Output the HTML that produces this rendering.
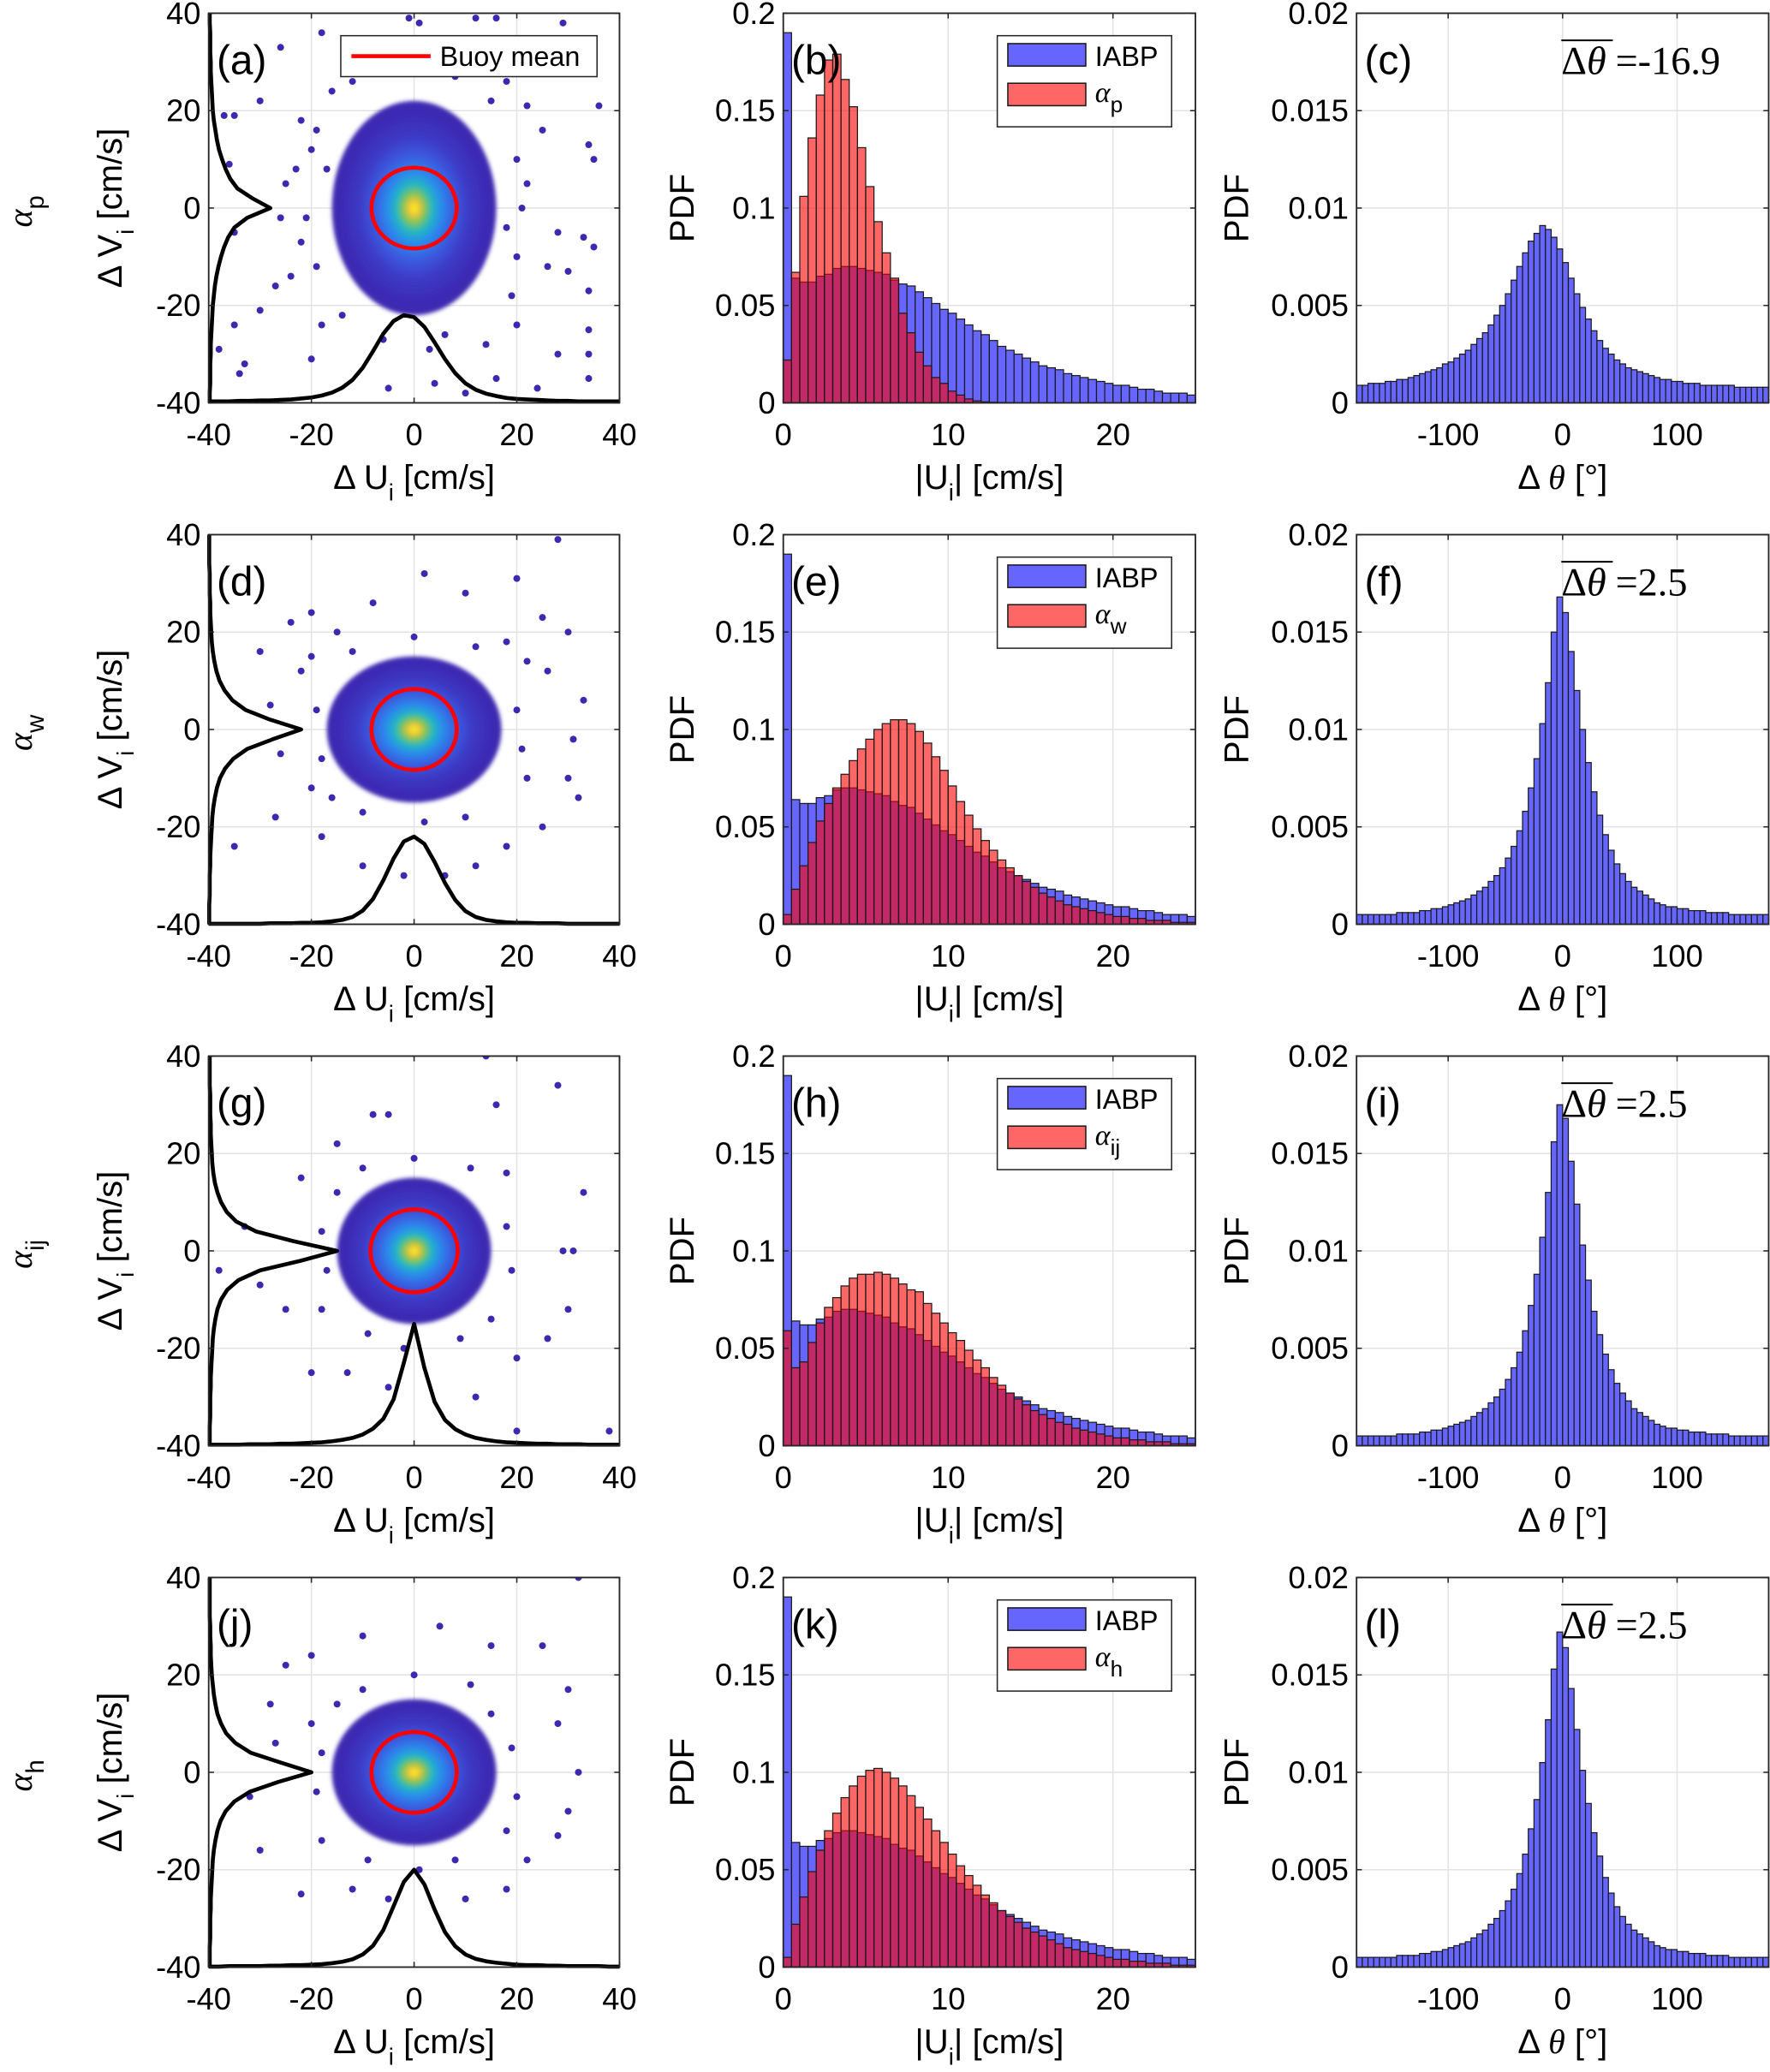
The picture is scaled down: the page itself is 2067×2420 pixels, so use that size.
<!DOCTYPE html>
<html><head><meta charset="utf-8"><style>
html,body{margin:0;padding:0;background:#fff}
svg{display:block}
text{font-family:"Liberation Sans",Arial,sans-serif;fill:#000}
.serif{font-family:"Liberation Serif","DejaVu Serif",serif}
</style></head><body>
<svg id="fig" width="2067" height="2420" viewBox="0 0 1340 1568.8" xmlns="http://www.w3.org/2000/svg">
<defs>
<radialGradient id="cloudGrad" cx="50%" cy="50%" r="50%">
<stop offset="0" stop-color="#f9f50e"/>
<stop offset="0.06" stop-color="#f0c83a"/>
<stop offset="0.13" stop-color="#8cc452"/>
<stop offset="0.22" stop-color="#25b8c0"/>
<stop offset="0.33" stop-color="#2a8cec"/>
<stop offset="0.48" stop-color="#3a5de0"/>
<stop offset="0.65" stop-color="#3d3cc8"/>
<stop offset="0.85" stop-color="#3d2cb6"/>
<stop offset="1" stop-color="#3d28b0"/>
</radialGradient>
<filter id="soft" x="-20%" y="-20%" width="140%" height="140%"><feGaussianBlur stdDeviation="1.6"/></filter>
</defs>
</svg>
<script>
// ---------- DATA ----------
const rowLabels = ["p","w","ij","h"];
const panelLetters = [["(a)","(b)","(c)"],["(d)","(e)","(f)"],["(g)","(h)","(i)"],["(j)","(k)","(l)"]];
const meanTheta = ["-16.9","2.5","2.5","2.5"];
const scatterTicks = [-40,-20,0,20,40];
const speedTicks = [0,10,20];
const speedYTicks = [0,0.05,0.1,0.15,0.2];
const speedYLabels = ["0","0.05","0.1","0.15","0.2"];
const angleTicks = [-100,0,100];
const angleYTicks = [0,0.005,0.01,0.015,0.02];
const angleYLabels = ["0","0.005","0.01","0.015","0.02"];
const buoyRadius = [8.3,8.3,8.5,8.3];
const cloudRx = [16,17,15,16];
const cloudRy = [22,15,15,15];
// marginal curves sampled at -40..40 step 2 (height above -40, cm/s units)
const margU_a = [0.3,0.3,0.3,0.4,0.4,0.5,0.5,0.6,0.7,0.9,1.1,1.5,2.1,3.1,4.7,7.2,10.6,14.2,16.8,18.0,17.6,15.6,12.4,9.0,6.1,4.0,2.7,1.9,1.4,1.0,0.8,0.7,0.6,0.5,0.4,0.4,0.3,0.3,0.3,0.3,0.3];
const margV_a = [0.2,0.2,0.3,0.3,0.3,0.4,0.4,0.5,0.6,0.7,0.8,1.0,1.2,1.5,1.9,2.4,3.0,3.8,5.0,7.5,12.0,8.5,5.6,4.2,3.3,2.6,2.0,1.6,1.3,1.0,0.8,0.7,0.6,0.5,0.4,0.4,0.3,0.3,0.3,0.2,0.2];
const margU_d = [0.1,0.1,0.1,0.1,0.1,0.1,0.2,0.2,0.2,0.3,0.3,0.4,0.6,0.9,1.5,2.8,5.2,9.0,13.5,17.0,18.0,16.5,12.8,8.5,5.0,2.7,1.5,0.9,0.6,0.4,0.3,0.3,0.2,0.2,0.2,0.1,0.1,0.1,0.1,0.1,0.1];
const margV_d = [0.1,0.1,0.1,0.2,0.2,0.2,0.3,0.3,0.4,0.5,0.6,0.7,0.9,1.2,1.6,2.2,3.2,4.8,7.5,12.5,18.0,12.0,7.2,4.6,3.1,2.1,1.5,1.1,0.8,0.6,0.5,0.4,0.3,0.3,0.2,0.2,0.2,0.1,0.1,0.1,0.1];
const margU_g = [0.2,0.2,0.2,0.2,0.3,0.3,0.3,0.4,0.4,0.5,0.6,0.7,0.9,1.2,1.6,2.3,3.5,5.5,9.5,17.0,25.0,16.0,9.0,5.3,3.4,2.3,1.6,1.2,0.9,0.7,0.6,0.5,0.4,0.4,0.3,0.3,0.3,0.2,0.2,0.2,0.2];
const margV_g = [0.2,0.2,0.2,0.3,0.3,0.3,0.4,0.4,0.5,0.6,0.7,0.8,1.0,1.3,1.7,2.4,3.6,5.8,10.0,18.0,25.0,16.5,9.2,5.4,3.5,2.4,1.7,1.2,0.9,0.7,0.6,0.5,0.4,0.4,0.3,0.3,0.3,0.2,0.2,0.2,0.2];
const margU_j = [0.1,0.1,0.2,0.2,0.2,0.2,0.3,0.3,0.4,0.4,0.5,0.6,0.8,1.1,1.6,2.6,4.4,7.6,12.5,17.5,20.0,17.0,11.8,7.2,4.3,2.6,1.7,1.2,0.9,0.7,0.5,0.4,0.4,0.3,0.3,0.2,0.2,0.2,0.2,0.1,0.1];
const margV_j = [0.2,0.2,0.2,0.3,0.3,0.3,0.4,0.4,0.5,0.6,0.7,0.8,1.0,1.3,1.7,2.3,3.3,5.0,8.0,13.5,20.0,14.0,8.2,5.2,3.4,2.4,1.7,1.3,1.0,0.8,0.6,0.5,0.4,0.4,0.3,0.3,0.2,0.2,0.2,0.2,0.2];
// scatter outliers [dU, dV]
const pts_a = [[-30,22],[-37,19],[-35,19],[-26,33],[-18,36],[-1,39],[1,38],[12,39],[16,39],[29,38],[36,21],[34,13],[35,10],[28,-5],[33,-6],[35,-8],[30,-13],[34,-17],[34,-25],[34,-30],[34,-35],[28,-30],[24,-37],[-30,-21],[-35,-24],[-38,-29],[-33,-32],[-34,-34],[-20,-31],[-36,9],[-35,-5],[-27,-16],[-24,-14],[-22,-7],[-25,5],[-26,-2],[-20,12],[22,21],[25,16],[20,-24],[16,-35],[10,-38],[-5,-37],[4,-36],[-16,24],[18,26],[-22,18],[26,-12],[-18,-24],[14,-28],[-19,16],[-21,-2],[-19,-12],[20,10],[21,0],[20,-10],[19,-18],[-12,26],[8,27],[-6,-27],[6,-26],[-14,-22],[15,22],[-17,8],[18,-4],[-3,28],[3,-29],[22,5],[-23,8]];
const pts_d = [[-24,22],[-20,24],[-30,16],[-35,-24],[-27,-18],[-26,-5],[-28,5],[-22,12],[28,39],[20,31],[25,23],[30,20],[33,6],[31,-2],[30,-10],[32,-14],[25,-20],[18,-24],[12,-28],[6,-30],[-2,-30],[-10,-28],[-18,-22],[2,32],[-8,26],[10,28],[-15,20],[22,-10],[26,12],[-20,-12],[18,18],[-19,4],[-18,-6],[20,4],[21,-4],[-12,16],[12,17],[-10,-17],[10,-18],[0,19],[2,-19],[-20,15],[22,14],[-16,-14]];
const pts_g = [[-33,5],[-30,-7],[-20,-25],[-25,-12],[-22,15],[-15,22],[-5,28],[14,40],[28,34],[16,30],[33,12],[29,0],[31,0],[30,-12],[20,-22],[20,-37],[38,-37],[12,-30],[-5,-28],[-13,-25],[26,-18],[18,16],[-18,-12],[-38,-4],[-8,28],[-18,4],[-17,-4],[18,5],[19,-4],[-10,17],[11,17],[-9,-17],[9,-18],[0,19],[-2,-20],[15,-14],[-15,12]];
const pts_j = [[-25,22],[-20,24],[-28,14],[-30,-16],[-22,-25],[-32,-5],[-27,6],[-20,10],[32,40],[25,26],[30,17],[28,10],[32,0],[30,-8],[28,-13],[22,-18],[18,-24],[10,-26],[-5,-26],[-12,-24],[5,30],[-10,28],[15,26],[-18,-14],[20,-5],[-18,4],[-19,-4],[19,5],[18,-12],[-10,17],[11,18],[-9,-18],[8,-18],[0,20],[1,-20],[-15,14],[15,12]];
// speed histograms, 50 bins of 0.5 cm/s
const iabpSpeed = [0.19,0.064,0.062,0.062,0.065,0.066,0.069,0.070,0.070,0.069,0.068,0.067,0.066,0.063,0.061,0.060,0.057,0.054,0.051,0.048,0.046,0.043,0.040,0.037,0.035,0.032,0.029,0.027,0.025,0.023,0.021,0.019,0.018,0.017,0.015,0.014,0.013,0.012,0.011,0.010,0.009,0.009,0.008,0.007,0.007,0.006,0.005,0.005,0.005,0.004];
const speed_p = [0.022,0.067,0.106,0.136,0.158,0.176,0.179,0.166,0.152,0.131,0.111,0.093,0.077,0.064,0.046,0.036,0.026,0.019,0.013,0.010,0.006,0.004,0.002,0.001,0.0005,0.0003,0.0002,0.0001,0,0,0,0,0,0,0,0,0,0,0,0,0,0,0,0,0,0,0,0,0,0];
const speed_w = [0.005,0.018,0.030,0.042,0.053,0.062,0.070,0.077,0.084,0.090,0.095,0.100,0.103,0.105,0.105,0.103,0.099,0.093,0.086,0.079,0.071,0.063,0.056,0.049,0.043,0.038,0.033,0.029,0.025,0.022,0.019,0.016,0.014,0.012,0.010,0.009,0.008,0.007,0.006,0.005,0.004,0.004,0.003,0.003,0.002,0.002,0.002,0.001,0.001,0.001];
const speed_ij = [0.059,0.040,0.043,0.053,0.063,0.071,0.076,0.082,0.086,0.088,0.088,0.089,0.088,0.086,0.083,0.080,0.079,0.073,0.068,0.063,0.058,0.054,0.049,0.044,0.040,0.035,0.031,0.027,0.024,0.021,0.018,0.016,0.014,0.012,0.011,0.009,0.008,0.007,0.006,0.005,0.004,0.004,0.003,0.003,0.002,0.002,0.002,0.001,0.001,0.001];
const speed_h = [0.005,0.022,0.036,0.049,0.060,0.070,0.079,0.087,0.093,0.098,0.101,0.102,0.100,0.097,0.093,0.088,0.082,0.076,0.070,0.064,0.058,0.052,0.047,0.042,0.037,0.033,0.029,0.026,0.023,0.020,0.018,0.016,0.014,0.012,0.010,0.009,0.008,0.007,0.006,0.005,0.004,0.004,0.003,0.003,0.002,0.002,0.002,0.001,0.001,0.001];
// angle histograms, 72 bins of 5 deg from -180
const angle_p = [0.0009,0.0009,0.0010,0.0010,0.0010,0.0011,0.0011,0.0012,0.0012,0.0013,0.0014,0.0015,0.0016,0.0017,0.0018,0.0020,0.0021,0.0023,0.0025,0.0027,0.0030,0.0033,0.0036,0.0040,0.0045,0.0050,0.0056,0.0063,0.0070,0.0077,0.0083,0.0087,0.0091,0.0089,0.0085,0.0079,0.0072,0.0064,0.0056,0.0049,0.0043,0.0037,0.0032,0.0028,0.0025,0.0022,0.0020,0.0018,0.0017,0.0016,0.0015,0.0014,0.0013,0.0012,0.0012,0.0011,0.0011,0.0010,0.0010,0.0010,0.0009,0.0009,0.0009,0.0009,0.0009,0.0009,0.0008,0.0008,0.0008,0.0008,0.0008,0.0008];
const angle_w = [0.0005,0.0005,0.0005,0.0005,0.0005,0.0005,0.0005,0.0006,0.0006,0.0006,0.0006,0.0007,0.0007,0.0008,0.0008,0.0009,0.0010,0.0011,0.0012,0.0013,0.0015,0.0017,0.0019,0.0022,0.0025,0.0029,0.0034,0.0040,0.0048,0.0058,0.0070,0.0085,0.0103,0.0124,0.0150,0.0168,0.0160,0.0140,0.0120,0.0100,0.0083,0.0068,0.0056,0.0046,0.0038,0.0031,0.0026,0.0022,0.0019,0.0017,0.0015,0.0013,0.0011,0.0010,0.0009,0.0009,0.0008,0.0008,0.0007,0.0007,0.0007,0.0006,0.0006,0.0006,0.0006,0.0005,0.0005,0.0005,0.0005,0.0005,0.0005,0.0005];
const angle_ij = [0.0005,0.0005,0.0005,0.0005,0.0005,0.0005,0.0005,0.0006,0.0006,0.0006,0.0006,0.0007,0.0007,0.0008,0.0008,0.0009,0.0010,0.0011,0.0012,0.0013,0.0015,0.0017,0.0019,0.0022,0.0025,0.0029,0.0034,0.0040,0.0048,0.0059,0.0072,0.0088,0.0107,0.0130,0.0156,0.0175,0.0168,0.0146,0.0124,0.0103,0.0085,0.0069,0.0057,0.0047,0.0039,0.0032,0.0027,0.0023,0.0019,0.0017,0.0015,0.0013,0.0011,0.0010,0.0009,0.0009,0.0008,0.0008,0.0007,0.0007,0.0007,0.0006,0.0006,0.0006,0.0006,0.0005,0.0005,0.0005,0.0005,0.0005,0.0005,0.0005];
const angle_h = [0.0005,0.0005,0.0005,0.0005,0.0005,0.0005,0.0005,0.0006,0.0006,0.0006,0.0006,0.0007,0.0007,0.0008,0.0008,0.0009,0.0010,0.0011,0.0012,0.0013,0.0015,0.0017,0.0019,0.0022,0.0025,0.0029,0.0034,0.0040,0.0048,0.0058,0.0071,0.0086,0.0105,0.0127,0.0153,0.0172,0.0164,0.0143,0.0122,0.0101,0.0084,0.0069,0.0057,0.0046,0.0038,0.0031,0.0026,0.0022,0.0019,0.0017,0.0015,0.0013,0.0011,0.0010,0.0009,0.0009,0.0008,0.0008,0.0007,0.0007,0.0007,0.0006,0.0006,0.0006,0.0006,0.0005,0.0005,0.0005,0.0005,0.0005,0.0005,0.0005];

const margU = [margU_a, margU_d, margU_g, margU_j];
const margV = [margV_a, margV_d, margV_g, margV_j];
const pts = [pts_a, pts_d, pts_g, pts_j];
const speedModel = [speed_p, speed_w, speed_ij, speed_h];
const angleHist = [angle_p, angle_w, angle_ij, angle_h];

// ---------- DRAW ----------
const NS = "http://www.w3.org/2000/svg";
const svg = document.getElementById("fig");
function el(tag, attrs, parent){
  const e = document.createElementNS(NS, tag);
  for (const k in attrs) e.setAttribute(k, attrs[k]);
  (parent||svg).appendChild(e);
  return e;
}
const colL = [158,593,1027], colW = [311,312,312];
const rowTop = r => 10 + r*394.8, H = 295;
function scale(d0,d1,r0,r1){ return v => r0 + (v-d0)/(d1-d0)*(r1-r0); }

function axesFrame(g, L, T, W, xs, ys, xt, yt){
  xt.forEach(v=>{ const gl = el("line",{x1:xs(v),x2:xs(v),y1:T,y2:T+H,stroke:"#e3e3e3","stroke-width":1},g);
    
     });
  yt.forEach(v=>{ const gl = el("line",{x1:L,x2:L+W,y1:ys(v),y2:ys(v),stroke:"#e3e3e3","stroke-width":1},g);
    
     });
}
function axesBox(g, L, T, W, xs, ys, xt, yt, ytl, xtl){
  const b = el("rect",{x:L,y:T,width:W,height:H,fill:"none",stroke:"#262626","stroke-width":1.2},g);
  
  
  xt.forEach((v,i)=>{
    el("line",{x1:xs(v),x2:xs(v),y1:T+H,y2:T+H-4,stroke:"#262626"},g);
    el("line",{x1:xs(v),x2:xs(v),y1:T,y2:T+4,stroke:"#262626"},g);
    const t = el("text",{x:xs(v),y:T+H+32,"font-size":23.5,"text-anchor":"middle"},g);
    t.textContent = xtl[i];
    
    
  });
  yt.forEach((v,i)=>{
    el("line",{x1:L,x2:L+4,y1:ys(v),y2:ys(v),stroke:"#262626"},g);
    el("line",{x1:L+W,x2:L+W-4,y1:ys(v),y2:ys(v),stroke:"#262626"},g);
    const t = el("text",{x:L-6,y:ys(v)+8,"font-size":23.5,"text-anchor":"end"},g);
    t.textContent = ytl[i];
    
    
  });
}
function label(g, x, y, txt, rot, name){
  const t = el("text",{x:x,y:y,"font-size":26,"text-anchor":"middle"},g);
  if (rot) t.setAttribute("transform",`rotate(-90 ${x} ${y})`);
  t.innerHTML = txt;
  
  
  return t;
}

for (let r=0;r<4;r++){
  const T = rowTop(r);
  const rl = el("text",{x:24,y:T+150,"font-size":26,"text-anchor":"middle",transform:`rotate(-90 24 ${T+150})`});
  rl.innerHTML = `<tspan class="serif" font-style="italic">α</tspan><tspan font-size="19" dy="9">${rowLabels[r]}</tspan>`;
  
  

  // ---- scatter panel ----
  {
    const L = colL[0], W = colW[0];
    const g = el("g",{});
    
    
    const xs = scale(-40,40,L,L+W), ys = scale(-40,40,T+H,T);
    axesFrame(g,L,T,W,xs,ys,scatterTicks,scatterTicks);
    const cl = el("clipPath",{id:"clipS"+r},g);
    el("rect",{x:L,y:T,width:W,height:H},cl);
    const dg = el("g",{"clip-path":`url(#clipS${r})`},g);
    pts[r].forEach(p=>{
      const c = el("circle",{cx:xs(p[0]),cy:ys(p[1]),r:2.6,fill:"#3d28b0"},dg);
      
      
    });
    const cloud = el("ellipse",{cx:xs(0),cy:ys(0),rx:xs(cloudRx[r])-xs(0),ry:ys(0)-ys(cloudRy[r]),fill:"url(#cloudGrad)",filter:"url(#soft)"},dg);
    
    
    const circ = el("ellipse",{cx:xs(0),cy:ys(0),rx:xs(buoyRadius[r])-xs(0),ry:ys(0)-ys(buoyRadius[r]),fill:"none",stroke:"#ff0000","stroke-width":3},g);
    
    
    let du="", dv="";
    margU[r].forEach((h,i)=>{ const u=-40+2*i; du += (i?"L":"M")+xs(u)+" "+ys(-40+h)+" "; });
    margV[r].forEach((h,i)=>{ const v=-40+2*i; dv += (i?"L":"M")+xs(-40+h)+" "+ys(v)+" "; });
    const mu = el("path",{d:du,fill:"none",stroke:"#000","stroke-width":3,"stroke-linejoin":"round"},g);
    
    
    const mv = el("path",{d:dv,fill:"none",stroke:"#000","stroke-width":3,"stroke-linejoin":"round"},g);
    
    
    axesBox(g,L,T,W,xs,ys,scatterTicks,scatterTicks,scatterTicks.map(String),scatterTicks.map(String));
    const pl = el("text",{x:L+6,y:T+46,"font-size":31},g);
    pl.textContent = panelLetters[r][0];
    
    
    label(g, L+W/2, T+H+65, `Δ U<tspan font-size="18" dy="9">i</tspan><tspan dy="-9"> [cm/s]</tspan>`, false, 'x-axis-title');
    label(g, 92, T+H/2, `Δ V<tspan font-size="18" dy="9">i</tspan><tspan dy="-9"> [cm/s]</tspan>`, true, 'y-axis-title');
    if (r===0){
      const lg = el("g",{},g);
      
      
      el("rect",{x:258,y:T+17,width:194,height:31,fill:"#fff",stroke:"#262626","stroke-width":1},lg);
      el("line",{x1:266,x2:326,y1:T+32.5,y2:T+32.5,stroke:"#ff0000","stroke-width":3},lg);
      const lt = el("text",{x:333,y:T+40,"font-size":21},lg);
      lt.textContent = "Buoy mean";
      
      
    }
  }

  // ---- speed histogram ----
  {
    const L = colL[1], W = colW[1];
    const g = el("g",{});
    
    
    const xs = scale(0,25,L,L+W), ys = scale(0,0.2,T+H,T);
    axesFrame(g,L,T,W,xs,ys,speedTicks,speedYTicks);
    iabpSpeed.forEach((v,i)=>{
      const b = el("rect",{x:xs(i*0.5),y:ys(v),width:xs(0.5)-xs(0),height:ys(0)-ys(v),fill:"#6666ff",stroke:"#1a1a1a","stroke-width":0.8},g);
      
      
    });
    speedModel[r].forEach((v,i)=>{
      if (v<=0) return;
      const b = el("rect",{x:xs(i*0.5),y:ys(v),width:xs(0.5)-xs(0),height:ys(0)-ys(v),fill:"rgba(255,0,0,0.6)",stroke:"#1a1a1a","stroke-width":0.8},g);
      
      
    });
    axesBox(g,L,T,W,xs,ys,speedTicks,speedYTicks,speedYLabels,speedTicks.map(String));
    const pl = el("text",{x:L+6,y:T+46,"font-size":31},g);
    pl.textContent = panelLetters[r][1];
    
    
    label(g, L+W/2, T+H+65, `|U<tspan font-size="18" dy="9">i</tspan><tspan dy="-9">| [cm/s]</tspan>`, false, 'x-axis-title');
    label(g, 525, T+H/2, `PDF`, true, 'y-axis-title');
    const lg = el("g",{},g);
    
    
    el("rect",{x:755,y:T+17,width:132,height:69,fill:"#fff",stroke:"#262626","stroke-width":1},lg);
    el("rect",{x:763,y:T+23,width:59,height:17,fill:"#6666ff",stroke:"#1a1a1a","stroke-width":1},lg);
    el("rect",{x:763,y:T+53,width:59,height:17,fill:"#ff6666",stroke:"#1a1a1a","stroke-width":1},lg);
    const t1 = el("text",{x:829,y:T+40,"font-size":21},lg);
    t1.textContent = "IABP";
    
    
    const t2 = el("text",{x:829,y:T+67,"font-size":22},lg);
    t2.innerHTML = `<tspan class="serif" font-style="italic">α</tspan><tspan font-size="17" dy="8">${rowLabels[r]}</tspan>`;
    
    
  }

  // ---- angle histogram ----
  {
    const L = colL[2], W = colW[2];
    const g = el("g",{});
    
    
    const xs = scale(-180,180,L,L+W), ys = scale(0,0.02,T+H,T);
    axesFrame(g,L,T,W,xs,ys,angleTicks,angleYTicks);
    angleHist[r].forEach((v,i)=>{
      const b = el("rect",{x:xs(-180+5*i),y:ys(v),width:xs(5)-xs(0),height:ys(0)-ys(v),fill:"#6666ff",stroke:"#1a1a1a","stroke-width":0.8},g);
      
      
    });
    axesBox(g,L,T,W,xs,ys,angleTicks,angleYTicks,angleYLabels,angleTicks.map(String));
    const pl = el("text",{x:L+6,y:T+46,"font-size":31},g);
    pl.textContent = panelLetters[r][2];
    
    
    label(g, L+W/2, T+H+65, `Δ <tspan class="serif" font-style="italic">θ</tspan> [°]`, false, 'x-axis-title');
    label(g, 945, T+H/2, `PDF`, true, 'y-axis-title');
    const ann = el("text",{x:1182,y:T+46,"font-size":30,"class":"serif"},g);
    ann.innerHTML = `Δ<tspan font-style="italic">θ</tspan><tspan dx="7">=</tspan><tspan>${meanTheta[r]}</tspan>`;
    
    
    el("line",{x1:1182,x2:1221,y1:T+20.5,y2:T+20.5,stroke:"#000","stroke-width":1.3},g);
  }
}
</script>
</body></html>
